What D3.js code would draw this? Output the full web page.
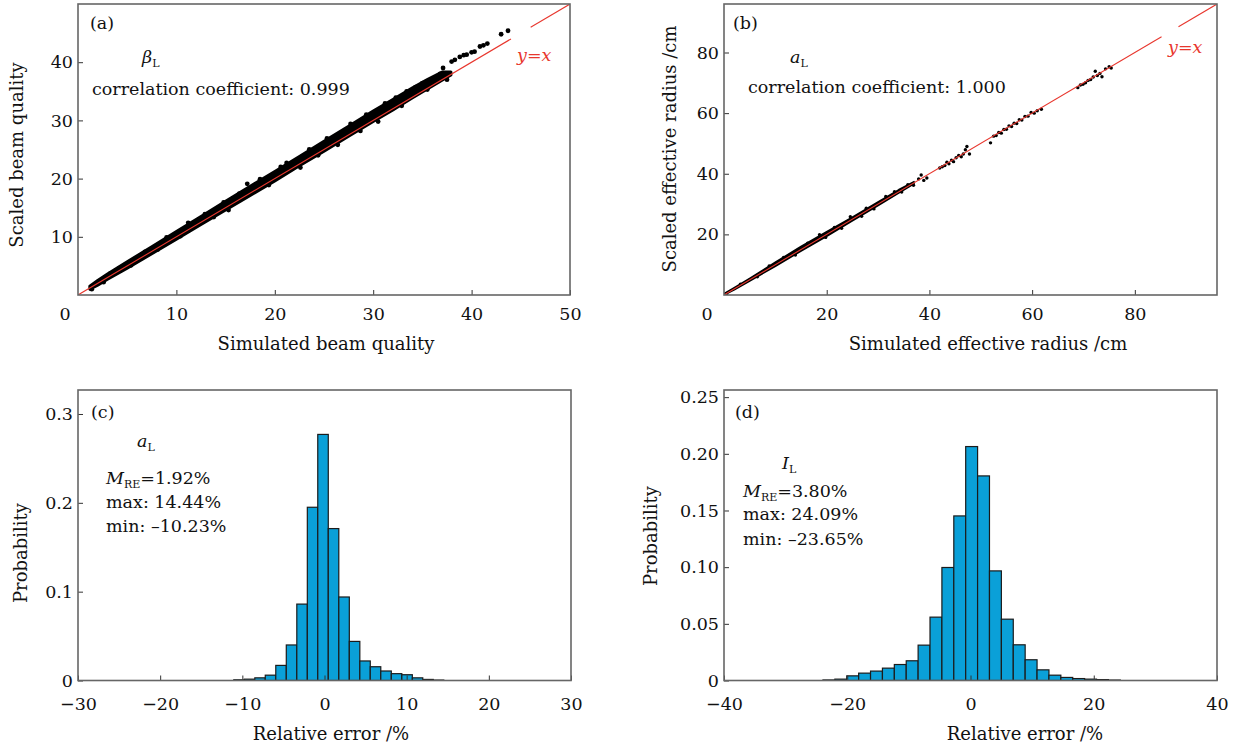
<!DOCTYPE html>
<html>
<head>
<meta charset="utf-8">
<script src="https://cdn.jsdelivr.net/npm/d3@7"></script>
<style>
  body { margin: 0; background: #fff; }
  text { font-family: "DejaVu Serif", serif; }
</style>
</head>
<body>
<div id="chart"></div>
<script>
// ---- data ----

// (a) beam quality: dense core of the point cloud (edges), plus single points
const aBandX    = [1.2, 2, 3, 5, 7.5, 10, 12.5, 15, 17.5, 20, 22.5, 25, 27.5, 30, 32, 34, 35.5, 37, 37.9];
const aBandLow  = [1.0, 1.7, 2.7, 4.6, 7.1, 9.6, 12.1, 14.6, 17.1, 19.6, 22.2, 24.7, 27.3, 29.8, 31.8, 33.9, 35.4, 36.9, 37.8];
const aBandHigh = [1.5, 2.5, 3.6, 5.7, 8.3, 10.9, 13.5, 16.1, 18.7, 21.2, 23.8, 26.4, 29.0, 31.6, 33.6, 35.6, 37.0, 38.3, 38.3];
const aDots = [
  [1.4, 1.0], [1.9, 2.0], [2.6, 2.2], [3.3, 3.7], [4.2, 4.6], [5.4, 5.1], [6.8, 7.4], [8.1, 7.8],
  [9.0, 9.9], [10.4, 10.1], [11.2, 12.4], [12.9, 13.9], [13.8, 13.4], [14.8, 15.9], [15.3, 14.6],
  [16.4, 17.4], [17.2, 19.1], [18.5, 19.9], [19.4, 18.9], [20.6, 22.0], [21.2, 22.7], [22.6, 21.9],
  [23.5, 25.0], [24.4, 24.0], [25.3, 26.9], [26.4, 25.8], [27.7, 29.4], [28.7, 28.2], [29.3, 31.0],
  [30.5, 29.8], [31.2, 32.9], [32.3, 33.9], [32.9, 32.5], [33.4, 35.0], [34.3, 35.7], [35.0, 36.4],
  [35.5, 35.3], [36.2, 37.1], [36.8, 38.0], [37.1, 39.0], [37.5, 37.0], [37.97, 40.1], [38.3, 40.4],
  [38.8, 40.9], [39.2, 41.2], [39.5, 41.3], [40.0, 41.7], [40.3, 41.8], [40.85, 42.7], [41.2, 42.9],
  [41.6, 43.2], [43.0, 44.8], [43.7, 45.4]
];

// (b) effective radius
const bBandX    = [0, 2, 5, 10, 15, 20, 25, 30, 34, 37];
const bBandLow  = [0, 1.7, 4.6, 9.5, 14.5, 19.4, 24.5, 29.5, 33.6, 36.7];
const bBandHigh = [0.4, 2.4, 5.5, 10.8, 16.0, 20.9, 25.7, 30.7, 34.7, 37.4];
const bDots = [
  [0.5, 0.4], [3.2, 3.6], [6.5, 6.0], [8.8, 9.6], [11.6, 12.4], [13.9, 13.2], [16.3, 17.1], [18.6, 19.9],
  [19.8, 19.0], [21.5, 22.3], [22.9, 22.0], [24.6, 25.8], [26.8, 26.0], [27.7, 28.6], [29.2, 28.4],
  [31.5, 32.5], [33.2, 34.1], [34.6, 34.0], [35.8, 36.4], [36.9, 36.2],
  [37.9, 38.3], [38.4, 39.6], [38.9, 37.8], [39.5, 38.6],
  [42.0, 41.9], [42.5, 42.3], [43.0, 42.7], [43.4, 43.8], [43.8, 43.3], [44.3, 44.5], [44.7, 44.0],
  [45.2, 45.3], [45.7, 46.0], [46.2, 45.6], [46.6, 46.5], [47.0, 47.9], [47.3, 49.0], [47.8, 46.5],
  [51.9, 50.2], [52.5, 52.4], [53.0, 52.6], [53.5, 53.6], [54.0, 53.4], [54.5, 54.6], [55.0, 54.7],
  [55.5, 55.8], [56.0, 55.6], [56.5, 56.7], [57.0, 56.6], [57.5, 57.8], [58.0, 57.7], [58.6, 58.9],
  [59.2, 59.0], [59.8, 60.2], [60.4, 60.0], [61.0, 60.8], [61.8, 61.3],
  [68.9, 68.4], [69.4, 69.3], [69.9, 69.5], [70.4, 70.0], [70.9, 70.8], [71.4, 71.1], [71.9, 71.9],
  [72.3, 73.8], [72.7, 72.4], [73.2, 73.1], [73.6, 72.0], [74.3, 74.6], [75.0, 75.3], [75.4, 74.9]
];

// y = x reference line pieces (there is a small break before the corner)
const aRefSegments = [[0, 44.0], [46.0, 50]];
const bRefSegments = [[0, 85.2], [88.5, 96]];

// (c) histogram of relative error, a_L
const cEdges = [-11.04, -9.76, -8.48, -7.21, -5.93, -4.65, -3.37, -2.09, -0.82, 0.46, 1.74,
                3.02, 4.30, 5.57, 6.85, 8.13, 9.41, 10.69, 11.96, 13.24, 14.52];
const cProb  = [0.0008, 0.0015, 0.003, 0.006, 0.017, 0.040, 0.086, 0.195, 0.277, 0.171,
                0.094, 0.044, 0.022, 0.0155, 0.0107, 0.0077, 0.0065, 0.003, 0.0012, 0.0005];

// (d) histogram of relative error, I_L
const dEdges = [-23.94, -22.01, -20.08, -18.15, -16.22, -14.29, -12.36, -10.43, -8.50, -6.57, -4.64,
                -2.71, -0.78, 1.15, 3.08, 5.01, 6.94, 8.87, 10.80, 12.73, 14.66, 16.59, 18.52,
                20.45, 22.38, 24.31];
const dProb  = [0.0005, 0.0012, 0.0041, 0.0065, 0.0083, 0.0109, 0.0141, 0.0174, 0.0312, 0.0559,
                0.0997, 0.1452, 0.2064, 0.1805, 0.0967, 0.0541, 0.0315, 0.0183, 0.0094, 0.0047,
                0.0027, 0.0017, 0.0012, 0.0008, 0.0004];

// tick values
const aTicksX = [10, 20, 30, 40, 50], aTicksY = [10, 20, 30, 40];
const bTicksX = [20, 40, 60, 80],     bTicksY = [20, 40, 60, 80];
const cTicksX = [-30, -20, -10, 0, 10, 20, 30], cTicksY = [0, 0.1, 0.2, 0.3];
const dTicksX = [-40, -20, 0, 20, 40], dTicksY = [0, 0.05, 0.10, 0.15, 0.20, 0.25];

// ---- drawing ----
const red = "#e8372e", barFill = "#0aa0d8";
const tickFont = 17.5, labelFont = 18;

const svg = d3.select("#chart").append("svg")
    .attr("width", 1235)
    .attr("height", 749);

function frame(box, xDom, yDom, id) {
    const x = d3.scaleLinear().domain(xDom).range([box.left, box.right]);
    const y = d3.scaleLinear().domain(yDom).range([box.bottom, box.top]);
    svg.append("clipPath").attr("id", id)
        .append("rect")
        .attr("x", box.left).attr("y", box.top)
        .attr("width", box.right - box.left).attr("height", box.bottom - box.top);
    return { x, y, g: svg.append("g") };
}

function axes(p, box, opt) {
    const gx = p.g.append("g")
        .attr("transform", `translate(0,${box.bottom})`)
        .call(d3.axisBottom(p.x).tickValues(opt.xTicks).tickSizeInner(-5).tickSizeOuter(0)
            .tickPadding(opt.xPad).tickFormat(opt.xFmt));
    const gy = p.g.append("g")
        .attr("transform", `translate(${box.left},0)`)
        .call(d3.axisLeft(p.y).tickValues(opt.yTicks).tickSizeInner(-5).tickSizeOuter(0)
            .tickPadding(5).tickFormat(opt.yFmt));
    [gx, gy].forEach(a => {
        a.select(".domain").remove();
        a.attr("font-family", "DejaVu Serif").attr("font-size", tickFont);
        a.selectAll("line").attr("stroke", "#333").attr("stroke-width", 1);
        a.selectAll("text").attr("fill", "#111");
    });
    // box round the plot area
    p.g.append("rect")
        .attr("x", box.left).attr("y", box.top)
        .attr("width", box.right - box.left).attr("height", box.bottom - box.top)
        .attr("fill", "none").attr("stroke", "#666").attr("stroke-width", 1.6);
}

function axisTitles(g, xl, yl) {
    g.append("text").attr("x", xl.x).attr("y", xl.y)
        .attr("text-anchor", "middle").attr("font-size", labelFont).attr("fill", "#111")
        .text(xl.t);
    g.append("text")
        .attr("transform", `translate(${yl.x},${yl.y}) rotate(-90)`)
        .attr("text-anchor", "middle").attr("font-size", labelFont).attr("fill", "#111")
        .text(yl.t);
}

// text with an italic symbol and a small upright subscript
function symText(g, x, y, sym, sub, rest) {
    const t = g.append("text").attr("x", x).attr("y", y)
        .attr("font-size", tickFont).attr("fill", "#111");
    t.append("tspan").attr("font-style", "italic").text(sym);
    t.append("tspan").attr("font-size", 11).attr("dy", 4).text(sub);
    if (rest) t.append("tspan").attr("dy", -4).text(rest);
    return t;
}

function plainText(g, x, y, s, extra) {
    const t = g.append("text").attr("x", x).attr("y", y)
        .attr("font-size", tickFont).attr("fill", "#111").text(s);
    if (extra) extra(t);
    return t;
}

function scatterPanel(box, dom, id, band, dots, r, bandStroke, refSegs) {
    const p = frame(box, dom, dom, id);
    const inner = p.g.append("g").attr("clip-path", `url(#${id})`);

    const bandData = band.x.map((v, i) => ({ x: v, lo: band.lo[i], hi: band.hi[i] }));
    inner.append("path")
        .datum(bandData)
        .attr("fill", "#000")
        .attr("stroke", "#000")
        .attr("stroke-width", bandStroke)
        .attr("stroke-linejoin", "round")
        .attr("d", d3.area()
            .x(d => p.x(d.x))
            .y0(d => p.y(d.lo))
            .y1(d => p.y(d.hi)));

    inner.selectAll("circle")
        .data(dots)
        .join("circle")
        .attr("cx", d => p.x(d[0]))
        .attr("cy", d => p.y(d[1]))
        .attr("r", r)
        .attr("fill", "#000");

    const line = d3.line().x(d => p.x(d)).y(d => p.y(d));
    refSegs.forEach(s => {
        inner.append("path")
            .attr("d", line(s))
            .attr("fill", "none")
            .attr("stroke", red)
            .attr("stroke-width", 1.1);
    });
    return p;
}

function histPanel(box, xDom, yDom, id, edges, prob) {
    const p = frame(box, xDom, yDom, id);
    const bins = prob.map((v, i) => ({ x0: edges[i], x1: edges[i + 1], v }));
    p.g.append("g").attr("clip-path", `url(#${id})`)
        .selectAll("rect")
        .data(bins)
        .join("rect")
        .attr("x", d => p.x(d.x0))
        .attr("width", d => p.x(d.x1) - p.x(d.x0))
        .attr("y", d => p.y(d.v))
        .attr("height", d => p.y(0) - p.y(d.v))
        .attr("fill", barFill)
        .attr("stroke", "#1b1b1b")
        .attr("stroke-width", 1.2);
    return p;
}

// ---------- (a) ----------
const boxA = { left: 78, right: 570, top: 4, bottom: 295 };
const pA = scatterPanel(boxA, [0, 50], "clipA",
    { x: aBandX, lo: aBandLow, hi: aBandHigh }, aDots, 2.4, 3, aRefSegments);
axes(pA, boxA, {
    xTicks: aTicksX, yTicks: aTicksY, xPad: 12.5,
    xFmt: d3.format("d"), yFmt: d3.format("d")
});
plainText(pA.g, 65, 320, "0", t => t.attr("text-anchor", "middle"));
axisTitles(pA.g, { x: 326, y: 350, t: "Simulated beam quality" },
                 { x: 23, y: 155, t: "Scaled beam quality" });
plainText(pA.g, 90, 29, "(a)");
symText(pA.g, 142, 63, "β", "L");
plainText(pA.g, 92, 95, "correlation coefficient: 0.999");
plainText(pA.g, 517, 61, "y=x", t => t.attr("fill", red).attr("font-style", "italic"));

// ---------- (b) ----------
const boxB = { left: 724, right: 1217, top: 4, bottom: 295 };
const pB = scatterPanel(boxB, [0, 96], "clipB",
    { x: bBandX, lo: bBandLow, hi: bBandHigh }, bDots, 1.7, 1.6, bRefSegments);
axes(pB, boxB, {
    xTicks: bTicksX, yTicks: bTicksY, xPad: 12.5,
    xFmt: d3.format("d"), yFmt: d3.format("d")
});
plainText(pB.g, 707, 320, "0", t => t.attr("text-anchor", "middle"));
axisTitles(pB.g, { x: 988, y: 350, t: "Simulated effective radius /cm" },
                 { x: 676, y: 149, t: "Scaled effective radius /cm" });
plainText(pB.g, 733, 29, "(b)");
symText(pB.g, 790, 63, "a", "L");
plainText(pB.g, 748, 93, "correlation coefficient: 1.000");
plainText(pB.g, 1168, 53, "y=x", t => t.attr("fill", red).attr("font-style", "italic"));

// ---------- (c) ----------
const boxC = { left: 78, right: 571, top: 390, bottom: 680.5 };
const pC = histPanel(boxC, [-30, 30], [0, 0.327], "clipC", cEdges, cProb);
axes(pC, boxC, {
    xTicks: cTicksX, yTicks: cTicksY, xPad: 17,
    xFmt: d3.format("d"), yFmt: d => d === 0 ? "0" : d3.format(".1f")(d)
});
axisTitles(pC.g, { x: 331, y: 740, t: "Relative error /%" },
                 { x: 27, y: 553, t: "Probability" });
plainText(pC.g, 91, 418, "(c)");
symText(pC.g, 137, 447, "a", "L");
symText(pC.g, 106, 484, "M", "RE", "=1.92%");
plainText(pC.g, 106, 508, "max: 14.44%");
plainText(pC.g, 106, 532, "min: \u201310.23%");

// ---------- (d) ----------
const boxD = { left: 724, right: 1217, top: 390, bottom: 680.5 };
const pD = histPanel(boxD, [-40, 40], [0, 0.2563], "clipD", dEdges, dProb);
axes(pD, boxD, {
    xTicks: dTicksX, yTicks: dTicksY, xPad: 17,
    xFmt: d3.format("d"), yFmt: d => d === 0 ? "0" : d3.format(".2f")(d)
});
axisTitles(pD.g, { x: 1025, y: 740, t: "Relative error /%" },
                 { x: 657, y: 536, t: "Probability" });
plainText(pD.g, 735, 418, "(d)");
symText(pD.g, 782, 469, "I", "L");
symText(pD.g, 743, 497, "M", "RE", "=3.80%");
plainText(pD.g, 743, 520, "max: 24.09%");
plainText(pD.g, 743, 545, "min: \u201323.65%");
</script>
</body>
</html>
